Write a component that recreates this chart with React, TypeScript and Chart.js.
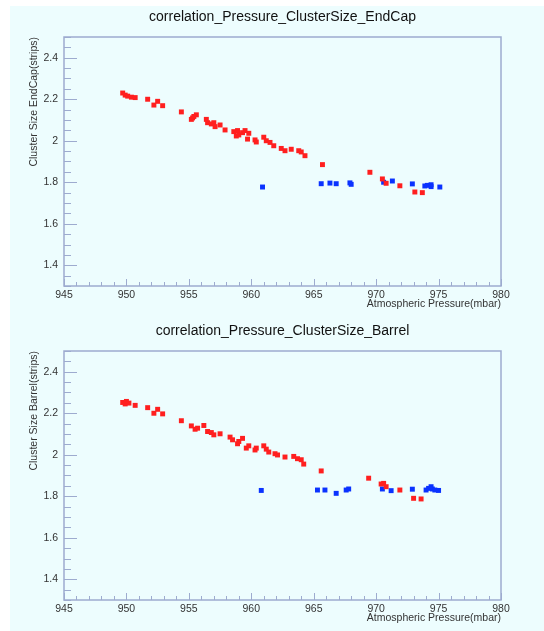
import React, { useEffect, useRef } from 'react';
import { Chart, registerables } from 'chart.js';

Chart.register(...registerables);

const FONT = "'Liberation Sans', Arial, Helvetica, sans-serif";
const AXIS_COLOR = '#9dabcf';
const LABEL_COLOR = '#333333';
const RED = '#ff1f1f';
const BLUE = '#0a32ff';

// Axis ticks
const xTickValues = [945, 950, 955, 960, 965, 970, 975, 980];
const yTickValues = [1.4, 1.6, 1.8, 2.0, 2.2, 2.4];

// EndCap – red series
const endcapRedP = [949.7, 949.9, 950.1, 950.4, 950.7, 951.7, 952.2, 952.5, 952.9, 954.4, 955.2, 955.3, 955.4, 955.6, 956.4, 956.5, 956.8, 957.0, 957.1, 957.5, 957.9, 958.6, 958.8, 958.9, 959.0, 959.3, 959.5, 959.7, 959.8, 960.3, 960.4, 961.0, 961.2, 961.5, 961.8, 962.4, 962.7, 963.2, 963.8, 964.0, 964.3, 965.7, 969.5, 970.5, 970.8, 971.9, 973.1, 973.7];
const endcapRedCS = [2.23, 2.22, 2.215, 2.21, 2.208, 2.2, 2.172, 2.19, 2.169, 2.139, 2.103, 2.11, 2.117, 2.125, 2.103, 2.087, 2.081, 2.087, 2.068, 2.076, 2.052, 2.044, 2.023, 2.049, 2.028, 2.039, 2.049, 2.008, 2.036, 2.004, 1.994, 2.017, 2.0, 1.992, 1.976, 1.963, 1.952, 1.959, 1.952, 1.946, 1.928, 1.885, 1.848, 1.816, 1.795, 1.783, 1.753, 1.75];

// EndCap – blue series
const endcapBlueP = [960.9, 965.6, 966.3, 966.8, 967.9, 968.0, 970.6, 971.3, 972.9, 973.9, 974.1, 974.4, 974.4, 975.1];
const endcapBlueCS = [1.777, 1.793, 1.796, 1.793, 1.797, 1.79, 1.8, 1.806, 1.792, 1.782, 1.785, 1.788, 1.779, 1.777];

// Barrel – red series
const barrelRedP = [949.7, 949.9, 950.0, 950.2, 950.7, 951.7, 952.2, 952.5, 952.9, 954.4, 955.2, 955.5, 955.7, 956.2, 956.5, 956.8, 957.0, 957.5, 958.3, 958.5, 958.9, 959.0, 959.3, 959.6, 959.8, 960.3, 960.4, 961.0, 961.2, 961.4, 961.9, 962.1, 962.7, 963.4, 963.7, 964.0, 964.2, 965.6, 969.4, 970.4, 970.6, 970.8, 971.9, 973.0, 973.6];
const barrelRedCS = [2.252, 2.245, 2.257, 2.249, 2.238, 2.227, 2.2, 2.219, 2.197, 2.164, 2.139, 2.123, 2.128, 2.141, 2.112, 2.107, 2.096, 2.101, 2.085, 2.072, 2.053, 2.064, 2.079, 2.032, 2.043, 2.023, 2.032, 2.043, 2.027, 2.013, 2.005, 1.999, 1.989, 1.992, 1.981, 1.976, 1.955, 1.922, 1.887, 1.859, 1.862, 1.846, 1.83, 1.79, 1.787];

// Barrel – blue series
const barrelBlueP = [960.8, 965.3, 965.9, 966.8, 967.6, 967.8, 970.5, 971.2, 972.9, 974.0, 974.2, 974.4, 974.5, 974.7, 975.0];
const barrelBlueCS = [1.828, 1.83, 1.83, 1.814, 1.83, 1.835, 1.835, 1.827, 1.834, 1.83, 1.838, 1.846, 1.835, 1.83, 1.828];

const rootFramePlugin = {
  id: 'rootFrame',
  afterDatasetsDraw(chart: any) {
    const { ctx, chartArea } = chart;
    const { left, top, right, bottom } = chartArea;
    const xs = chart.scales.x;
    const ys = chart.scales.y;
    ctx.save();
    ctx.strokeStyle = AXIS_COLOR;
    ctx.lineWidth = 1.5;
    ctx.strokeRect(left, top, right - left, bottom - top);
    ctx.lineWidth = 1;
    ctx.beginPath();
    // y ticks: major every 0.2, minor every 0.05 (inside the frame)
    for (let k = 26; k <= 50; k++) {
      const v = k * 0.05;
      const py = Math.round(ys.getPixelForValue(v)) + 0.5;
      if (py < top - 0.5 || py > bottom + 0.5) continue;
      const len = k % 4 === 0 ? 13 : 7;
      ctx.moveTo(left, py);
      ctx.lineTo(left + len, py);
    }
    // x ticks: major every 5, minor every 1
    for (let p = 945; p <= 980; p++) {
      const px = Math.round(xs.getPixelForValue(p)) + 0.5;
      const len = p % 5 === 0 ? 7 : 4;
      ctx.moveTo(px, bottom);
      ctx.lineTo(px, bottom - len);
    }
    ctx.stroke();
    ctx.restore();
  },
};

function makeChart(
  canvas: HTMLCanvasElement,
  title: string,
  yTitle: string,
  redP: number[],
  redV: number[],
  blueP: number[],
  blueV: number[],
  padBottom: number
) {
  const tickFont = { family: FONT, size: 10.5 };
  const titleFont = { family: FONT, size: 10.5, lineHeight: 1.2 };
  return new Chart(canvas, {
    type: 'scatter',
    data: {
      datasets: [
        {
          label: 'red',
          data: redP.map((x, i) => ({ x, y: redV[i] })),
          backgroundColor: RED,
          borderWidth: 0,
          pointStyle: 'rect',
          pointRadius: 3.5,
        },
        {
          label: 'blue',
          data: blueP.map((x, i) => ({ x, y: blueV[i] })),
          backgroundColor: BLUE,
          borderWidth: 0,
          pointStyle: 'rect',
          pointRadius: 3.5,
        },
      ],
    },
    options: {
      animation: false,
      responsive: false,
      events: [],
      layout: { padding: { left: 18, right: 43, top: 0, bottom: padBottom } },
      plugins: {
        legend: { display: false },
        tooltip: { enabled: false },
        title: {
          display: true,
          text: title,
          fullSize: false,
          color: '#111111',
          font: { family: FONT, size: 14, weight: 'normal', lineHeight: 1.2 },
          padding: { top: 3.2, bottom: 11 },
        },
      },
      scales: {
        x: {
          type: 'linear',
          min: 945,
          max: 980,
          afterBuildTicks: (s: any) => {
            s.ticks = xTickValues.map((v) => ({ value: v }));
          },
          afterFit: (s: any) => {
            s.height = 28;
          },
          grid: { display: false, drawTicks: false },
          border: { display: false },
          ticks: {
            color: LABEL_COLOR,
            font: tickFont,
            padding: 3,
            maxRotation: 0,
            autoSkip: false,
            callback: (v: any) => String(v),
          },
          title: {
            display: true,
            text: 'Atmospheric Pressure(mbar)',
            align: 'end',
            color: LABEL_COLOR,
            font: titleFont,
            padding: { top: 0, bottom: 3.7 },
          },
        },
        y: {
          type: 'linear',
          min: 1.3,
          max: 2.5,
          afterBuildTicks: (s: any) => {
            s.ticks = yTickValues.map((v) => ({ value: v }));
          },
          afterFit: (s: any) => {
            s.width = 36;
          },
          grid: { display: false, drawTicks: false },
          border: { display: false },
          ticks: {
            color: LABEL_COLOR,
            font: tickFont,
            padding: 6,
            autoSkip: false,
            callback: (v: any) => String(Number(Number(v).toFixed(2))),
          },
          title: {
            display: true,
            text: yTitle,
            align: 'end',
            color: LABEL_COLOR,
            font: titleFont,
            padding: { top: 0, bottom: 0 },
          },
        },
      },
    },
    plugins: [rootFramePlugin],
  } as any);
}

export default function App() {
  const topRef = useRef<HTMLCanvasElement>(null);
  const botRef = useRef<HTMLCanvasElement>(null);

  useEffect(() => {
    const c1 = makeChart(
      topRef.current!,
      'correlation_Pressure_ClusterSize_EndCap',
      'Cluster Size EndCap(strips)',
      endcapRedP,
      endcapRedCS,
      endcapBlueP,
      endcapBlueCS,
      4
    );
    const c2 = makeChart(
      botRef.current!,
      'correlation_Pressure_ClusterSize_Barrel',
      'Cluster Size Barrel(strips)',
      barrelRedP,
      barrelRedCS,
      barrelBlueP,
      barrelBlueCS,
      2
    );
    return () => {
      c1.destroy();
      c2.destroy();
    };
  }, []);

  return (
    <div style={{ position: 'absolute', left: 0, top: 0, width: 544, height: 631, background: '#ffffff', overflow: 'hidden' }}>
      <div style={{ position: 'absolute', left: 10, top: 6, width: 534, height: 625, background: '#edfdfe' }} />
      <canvas ref={topRef} width={534} height={312} style={{ position: 'absolute', left: 10, top: 6 }} />
      <canvas ref={botRef} width={534} height={310} style={{ position: 'absolute', left: 10, top: 320 }} />
    </div>
  );
}
